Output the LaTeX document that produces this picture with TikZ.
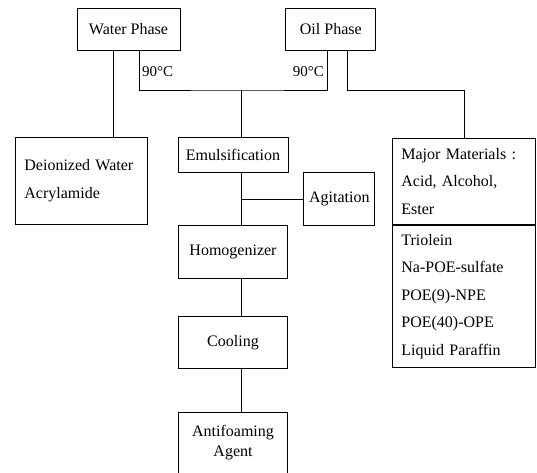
\documentclass[tikz,border=0pt]{standalone}
\usepackage{fontspec}
\setmainfont{Liberation Serif}
\usetikzlibrary{positioning}

\begin{document}
\begin{tikzpicture}[x=1pt, y=1pt, every node/.style={font=\fontsize{16}{27.5}\selectfont},
  b/.style={draw=black,line width=0.8pt,inner sep=0pt,minimum width=109pt,minimum height=53pt},
  lst/.style={draw=black,line width=0.8pt,align=left,inner xsep=9pt,inner ysep=0pt},
  ln/.style={line width=0.8pt,draw=black}]
  \useasboundingbox (0,0) rectangle (537,-472);
  \node[b,minimum width=103pt,minimum height=42pt] (water) at (128.5,-29) {Water Phase};
  \node[b,minimum width=90pt,minimum height=42pt,right=105pt of water] (oil) {Oil Phase};
  \node[b,minimum width=110pt,minimum height=35pt] (emul) at (233,-154.5) {Emulsification};
  \node[b,below=53pt of emul] (homog) {Homogenizer};
  \node[b,minimum height=52pt,below=37pt of homog] (cool) {Cooling};
  \node[b,minimum height=61pt,below=43pt of cool,align=center,font=\fontsize{16}{20}\selectfont] (anti) {Antifoaming\\Agent};
  \node[b,minimum width=71pt,anchor=north west] (agit) at ([xshift=15pt]emul.south east) {Agitation};
  \node[lst,text width=114pt,minimum height=87pt,anchor=north west] (deion) at (15,-137) {Deionized Water\\Acrylamide};
  \node[lst,text width=125pt,minimum height=86pt,anchor=north west] (majtop) at (392,-138) {Major Materials :\\Acid, Alcohol,\\Ester};
  \node[lst,text width=125pt,minimum height=142pt,below=0pt of majtop] (majbot) {Triolein\\Na-POE-sulfate\\POE(9)-NPE\\POE(40)-OPE\\Liquid Paraffin};
  \node[anchor=west,inner sep=1pt,font=\fontsize{15}{15}\selectfont] (tw) at (141,-72) {90°C};
  \node[anchor=east,inner sep=1pt,font=\fontsize{15}{15}\selectfont] (to) at (325,-72) {90°C};
  % connectors
  \coordinate (mix) at (241,-90);
  \coordinate (w1) at ([xshift=-15.5pt]water.south);
  \draw[ln] (w1) -- (w1 |- deion.north);
  \draw[ln] ([xshift=10.5pt]water.south) |- (mix) -| ([xshift=-3pt]oil.south);
  \draw[ln] (mix) -- (mix |- emul.north);
  \draw[ln] ([xshift=17pt]oil.south) -- ++(0,-40) -| (majtop.north);
  \draw[ln] (emul.south -| mix) -- (homog.north -| mix);
  \draw[ln] (mix |- agit.west) -- (agit.west);
  \draw[ln] (homog.south -| mix) -- (cool.north -| mix);
  \draw[ln] (cool.south -| mix) -- (anti.north -| mix);
\end{tikzpicture}
\end{document}
